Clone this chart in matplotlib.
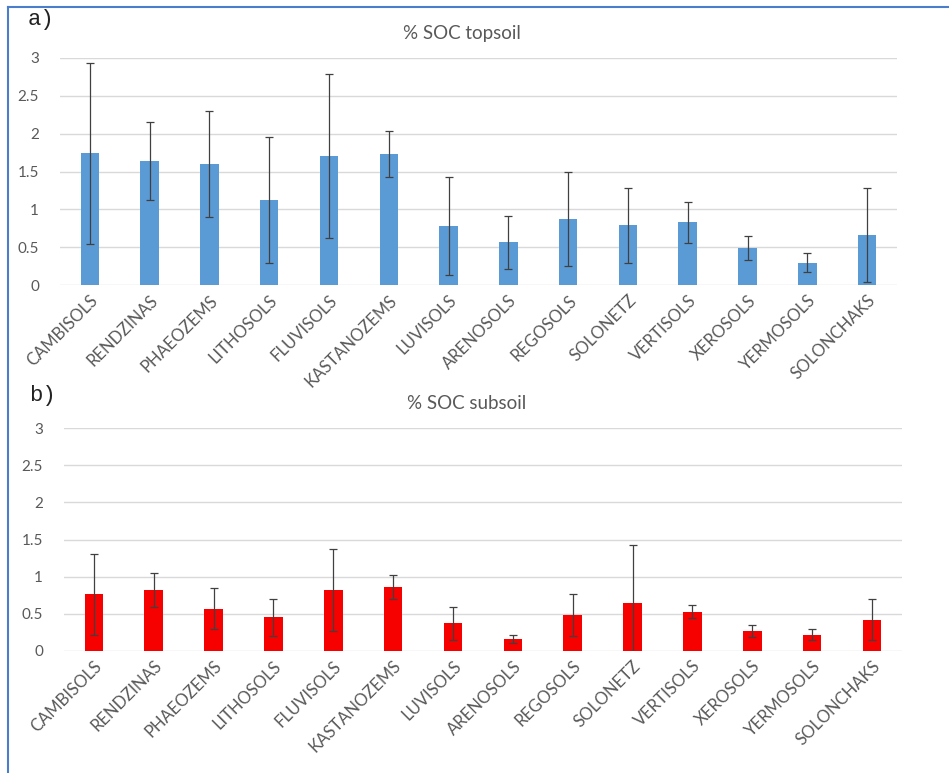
import numpy as np
import matplotlib.pyplot as plt
from matplotlib.lines import Line2D

# soil groups and % SOC (mean, +/- deviation)
soils = ["CAMBISOLS", "RENDZINAS", "PHAEOZEMS", "LITHOSOLS", "FLUVISOLS",
         "KASTANOZEMS", "LUVISOLS", "ARENOSOLS", "REGOSOLS", "SOLONETZ",
         "VERTISOLS", "XEROSOLS", "YERMOSOLS", "SOLONCHAKS"]

top_mean = [1.74, 1.64, 1.60, 1.13, 1.71, 1.73, 0.78, 0.57, 0.87, 0.79, 0.83, 0.49, 0.30, 0.66]
top_err = [1.20, 0.52, 0.70, 0.83, 1.08, 0.30, 0.65, 0.35, 0.62, 0.50, 0.27, 0.16, 0.12, 0.62]

sub_mean = [0.76, 0.82, 0.57, 0.45, 0.82, 0.86, 0.37, 0.16, 0.48, 0.64, 0.53, 0.27, 0.22, 0.42]
sub_err = [0.54, 0.23, 0.28, 0.25, 0.55, 0.16, 0.22, 0.06, 0.28, 0.78, 0.09, 0.08, 0.07, 0.28]

yticks = [0, 0.5, 1, 1.5, 2, 2.5, 3]
ytick_labels = ["0", "0.5", "1", "1.5", "2", "2.5", "3"]

plt.rcParams['font.family'] = ['Lato', 'DejaVu Sans']
txt_gray = "#595959"
grid_gray = "#d9d9d9"

fig = plt.figure(figsize=(9.49, 7.73), dpi=100)
ax_top = fig.add_axes([0.0632, 0.631, 0.882, 0.294])
ax_bot = fig.add_axes([0.0674, 0.158, 0.883, 0.288])


def soc_panel(ax, means, errs, color, title):
    x = np.arange(len(soils))
    ax.bar(x, means, width=0.31, color=color, zorder=2)
    ax.errorbar(x, means, yerr=errs, fmt="none", ecolor="#404040",
                elinewidth=0.9, capsize=3, capthick=0.9, zorder=3)
    ax.set_xlim(-0.5, len(soils) - 0.5)
    ax.set_ylim(0, 3)
    ax.set_yticks(yticks)
    ax.set_yticklabels(ytick_labels)
    ax.set_xticks(x)
    ax.set_xticklabels(soils, rotation=45, ha="right", rotation_mode="anchor")
    ax.yaxis.grid(True, color=grid_gray, linewidth=1, zorder=0)
    ax.set_axisbelow(True)
    for s in ax.spines.values():
        s.set_visible(False)
    ax.tick_params(axis="both", length=0, colors=txt_gray)
    ax.tick_params(axis="y", pad=15, labelsize=11)
    ax.tick_params(axis="x", pad=5, labelsize=12)
    ax.set_title(title, color=txt_gray, fontsize=13.5, pad=14, x=0.48)


soc_panel(ax_top, top_mean, top_err, "#5b9bd5", "% SOC topsoil")
soc_panel(ax_bot, sub_mean, sub_err, "#f60000", "% SOC subsoil")

fig.text(0.029, 0.975, "a)", family="Liberation Mono", fontsize=16, va="center", color="#222222")
fig.text(0.031, 0.489, "b)", family="Liberation Mono", fontsize=16, va="center", color="#222222")

# frame lines at the left and top
fig.add_artist(Line2D([0.0084, 0.0084], [0.0, 0.991], color="#4a7ecb", linewidth=1.5))
fig.add_artist(Line2D([0.0084, 1.0], [0.991, 0.991], color="#4a7ecb", linewidth=1.5))

fig.savefig("out.png", dpi=100)
